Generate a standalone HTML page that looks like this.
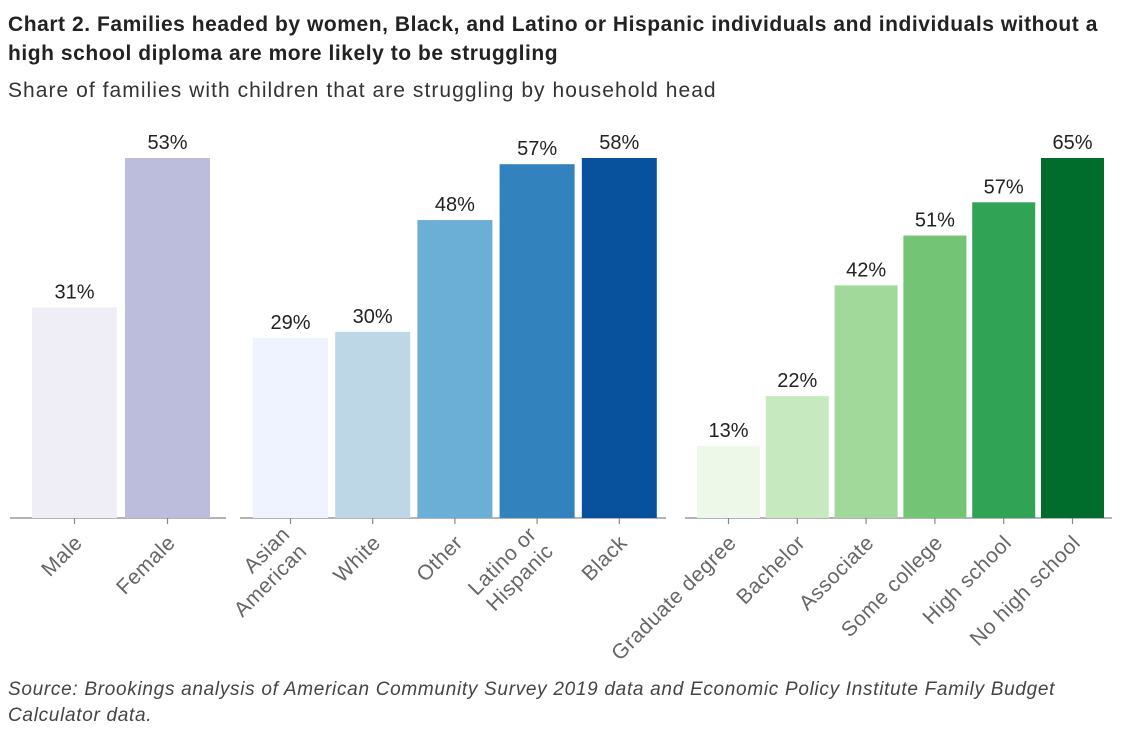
<!DOCTYPE html>
<html><head><meta charset="utf-8"><style>
body{margin:0;background:#fff;width:1128px;height:750px;overflow:hidden;font-family:"Liberation Sans",sans-serif;}
.t{position:absolute;left:8px;top:10px;font-size:21px;letter-spacing:0.55px;font-weight:bold;color:#222;line-height:29px;width:1125px;white-space:nowrap}
.s{position:absolute;left:8px;top:79px;font-size:21px;letter-spacing:1.05px;color:#333}
.src{position:absolute;left:8px;top:677px;font-size:19px;letter-spacing:0.7px;font-style:italic;color:#444;line-height:26px;white-space:nowrap}
svg{position:absolute;left:0;top:0}
</style></head><body>
<div class="t">Chart 2. Families headed by women, Black, and Latino or Hispanic individuals and individuals without a<br>high school diploma are more likely to be struggling</div>
<div class="s">Share of families with children that are struggling by household head</div>
<div class="src">Source: Brookings analysis of American Community Survey 2019 data and Economic Policy Institute Family Budget<br>Calculator data.</div>
<svg id="c" width="1128" height="750"></svg>
<script>
const cat1=["Male","Female"];
const val1=[31,53];
const cat2=["Asian|American","White","Other","Latino or|Hispanic","Black"];
const val2=[29,30,48,57,58];
const cat3=["Graduate degree","Bachelor","Associate","Some college","High school","No high school"];
const val3=[13,22,42,51,57,65];
const col1=["#efedf5","#bcbddc"];
const col2=["#eff3ff","#bdd7e7","#6baed6","#3182bd","#08519c"];
const col3=["#edf8e9","#c7e9c0","#a1d99b","#74c476","#31a354","#006d2c"];
const NS="http://www.w3.org/2000/svg";
const svg=document.getElementById('c');
const base=518, top0=158;
function mk(t,a){const e=document.createElementNS(NS,t);for(const k in a)e.setAttribute(k,a[k]);svg.appendChild(e);return e;}
function panel(name,cats,vals,cols,x0,x1,first,w,step){
  const mx=Math.max(...vals);
  const y=v=>base-v/mx*(base-top0);
  const ax=mk('line',{x1:x0,x2:x1,y1:base,y2:base,stroke:'#888','stroke-width':1.2});
  
  
  cats.forEach((c,i)=>{
    const bx=first+i*step, cx=bx+w/2;
    const r=mk('rect',{x:bx,y:y(vals[i]),width:w,height:base-y(vals[i]),fill:cols[i]});
    
    
    const tv=mk('text',{x:cx,y:y(vals[i])-9,'text-anchor':'middle','font-size':20,fill:'#222'});
    tv.textContent=vals[i]+'%';
    
    
    const tk=mk('line',{x1:cx,x2:cx,y1:base,y2:base+6,stroke:'#888','stroke-width':1.2});
    
    
    const lines=c.split('|');
    const g=mk('text',{transform:`translate(${cx+9},${base+26}) rotate(-45)`,'text-anchor':'end','font-size':21,'letter-spacing':0.5,fill:'#666'});
    
    
    lines.forEach((l,j)=>{const s=document.createElementNS(NS,'tspan');s.setAttribute('x',0);s.setAttribute('dy',j==0?(-(lines.length-1)*12):24);s.textContent=l;g.appendChild(s);});
  });
}
panel('gender',cat1,val1,col1,10,226,32,85,93);
panel('race',cat2,val2,col2,240,666,253,75,82.2);
panel('education',cat3,val3,col3,685,1112,697,63,68.8);
</script>
</body></html>
